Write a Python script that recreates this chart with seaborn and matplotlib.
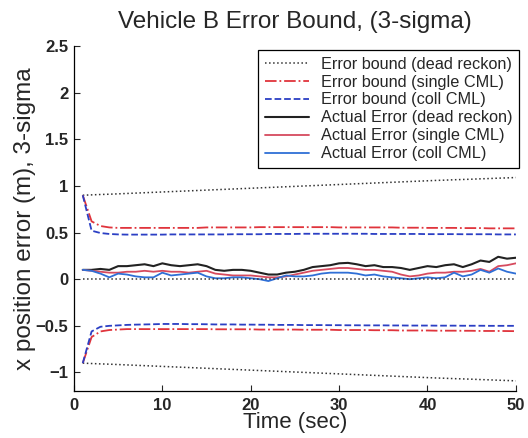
import numpy as np
import pandas as pd
import matplotlib
matplotlib.use("Agg")
import matplotlib.pyplot as plt
import seaborn as sns

# tiempo (s)
t = list(range(1, 51))

# cotas de error 3-sigma
dr_bound = [0.900, 0.904, 0.908, 0.911, 0.915, 0.919, 0.923, 0.927, 0.931, 0.935,
            0.939, 0.943, 0.947, 0.951, 0.955, 0.959, 0.963, 0.967, 0.971, 0.975,
            0.979, 0.983, 0.987, 0.991, 0.995, 0.999, 1.003, 1.007, 1.011, 1.015,
            1.019, 1.023, 1.027, 1.031, 1.035, 1.039, 1.043, 1.047, 1.051, 1.055,
            1.059, 1.062, 1.066, 1.069, 1.072, 1.076, 1.079, 1.083, 1.086, 1.090]
single_up = [0.90, 0.62, 0.57, 0.555, 0.55, 0.55, 0.55, 0.55, 0.55, 0.55,
             0.55, 0.55, 0.55, 0.55, 0.555, 0.555, 0.555, 0.555, 0.555, 0.555,
             0.558, 0.558, 0.558, 0.558, 0.558, 0.558, 0.558, 0.558, 0.558, 0.555,
             0.555, 0.555, 0.555, 0.555, 0.555, 0.555, 0.552, 0.552, 0.552, 0.55,
             0.55, 0.55, 0.55, 0.548, 0.548, 0.548, 0.545, 0.545, 0.545, 0.545]
coll_up = [0.90, 0.52, 0.495, 0.485, 0.48, 0.478, 0.478, 0.478, 0.478, 0.478,
           0.48, 0.48, 0.48, 0.48, 0.48, 0.48, 0.48, 0.482, 0.482, 0.482,
           0.482, 0.485, 0.485, 0.485, 0.485, 0.487, 0.487, 0.487, 0.487, 0.487,
           0.487, 0.487, 0.487, 0.485, 0.485, 0.485, 0.485, 0.485, 0.485, 0.483,
           0.483, 0.483, 0.483, 0.482, 0.482, 0.482, 0.482, 0.48, 0.48, 0.48]
single_lo = [-0.90, -0.62, -0.56, -0.545, -0.54, -0.535, -0.535, -0.535, -0.535, -0.535,
             -0.535, -0.535, -0.535, -0.535, -0.535, -0.537, -0.537, -0.537, -0.537, -0.537,
             -0.54, -0.54, -0.54, -0.54, -0.54, -0.542, -0.542, -0.542, -0.542, -0.545,
             -0.545, -0.545, -0.545, -0.547, -0.547, -0.547, -0.55, -0.55, -0.55, -0.55,
             -0.552, -0.552, -0.552, -0.553, -0.553, -0.555, -0.555, -0.555, -0.556, -0.557]
coll_lo = [-0.90, -0.56, -0.51, -0.50, -0.495, -0.49, -0.487, -0.485, -0.483, -0.48,
           -0.48, -0.48, -0.482, -0.482, -0.483, -0.485, -0.485, -0.485, -0.487, -0.487,
           -0.488, -0.488, -0.49, -0.49, -0.49, -0.492, -0.492, -0.492, -0.493, -0.493,
           -0.494, -0.494, -0.495, -0.495, -0.495, -0.496, -0.496, -0.497, -0.497, -0.497,
           -0.498, -0.498, -0.498, -0.499, -0.499, -0.499, -0.50, -0.50, -0.50, -0.50]

# errores reales
err_dr = [0.10, 0.10, 0.11, 0.10, 0.14, 0.14, 0.15, 0.16, 0.14, 0.17,
          0.15, 0.14, 0.15, 0.16, 0.14, 0.10, 0.09, 0.10, 0.10, 0.09,
          0.07, 0.05, 0.05, 0.07, 0.08, 0.10, 0.13, 0.14, 0.15, 0.17,
          0.175, 0.16, 0.14, 0.15, 0.13, 0.13, 0.12, 0.10, 0.12, 0.14,
          0.13, 0.15, 0.16, 0.13, 0.16, 0.20, 0.185, 0.24, 0.22, 0.23]
err_single = [0.10, 0.09, 0.08, 0.07, 0.07, 0.08, 0.08, 0.09, 0.08, 0.09,
              0.08, 0.08, 0.07, 0.08, 0.09, 0.06, 0.05, 0.04, 0.04, 0.04,
              0.03, 0.02, 0.02, 0.03, 0.05, 0.07, 0.09, 0.10, 0.11, 0.12,
              0.12, 0.11, 0.10, 0.10, 0.09, 0.08, 0.05, 0.03, 0.04, 0.06,
              0.07, 0.07, 0.08, 0.08, 0.09, 0.11, 0.08, 0.14, 0.15, 0.17]
err_coll = [0.10, 0.09, 0.06, 0.02, 0.06, 0.05, 0.03, 0.02, 0.02, 0.07,
            0.04, 0.05, 0.06, 0.07, 0.03, 0.01, 0.01, 0.02, 0.02, 0.01,
            0.00, -0.02, 0.01, 0.04, 0.03, 0.03, 0.04, 0.06, 0.07, 0.07,
            0.07, 0.06, 0.04, 0.05, 0.03, 0.02, 0.01, 0.00, 0.01, 0.02,
            0.01, 0.02, 0.07, 0.03, 0.05, 0.10, 0.07, 0.115, 0.08, 0.06]

zero_line = [0.0] * len(t)

x_ticks = [0, 10, 20, 30, 40, 50]
y_ticks = [-1, -0.5, 0, 0.5, 1, 1.5, 2, 2.5]
y_tick_labels = ["\u22121", "\u22120.5", "0", "0.5", "1", "1.5", "2", "2.5"]

red = "#e0343c"
blue = "#2b3fc4"
red_act = "#d64a5e"
blue_act = "#2f6fd6"

sns.set_style("ticks")
plt.rcParams["font.family"] = ["Liberation Sans", "DejaVu Sans"]
plt.rcParams["xtick.direction"] = "in"
plt.rcParams["ytick.direction"] = "in"

fig = plt.figure(figsize=(5.28, 4.38), dpi=100)
ax = fig.add_axes([0.140, 0.107, 0.837, 0.788])

lw = 1.3
sns.lineplot(x=t, y=dr_bound, ax=ax, color="#333333", linestyle=":", lw=1.1,
             label="Error bound (dead reckon)")
sns.lineplot(x=t, y=single_up, ax=ax, color=red, linestyle="-.", lw=lw,
             label="Error bound (single CML)")
sns.lineplot(x=t, y=coll_up, ax=ax, color=blue, linestyle="--", lw=lw,
             label="Error bound (coll CML)")
sns.lineplot(x=t, y=err_dr, ax=ax, color="#222222", lw=1.5,
             label="Actual Error (dead reckon)")
sns.lineplot(x=t, y=err_single, ax=ax, color=red_act, lw=1.3,
             label="Actual Error (single CML)")
sns.lineplot(x=t, y=err_coll, ax=ax, color=blue_act, lw=1.3,
             label="Actual Error (coll CML)")
# cotas inferiores y linea de cero
sns.lineplot(x=t, y=[-v for v in dr_bound], ax=ax, color="#333333", linestyle=":", lw=1.1)
sns.lineplot(x=t, y=zero_line, ax=ax, color="#333333", linestyle=":", lw=1.1)
sns.lineplot(x=t, y=single_lo, ax=ax, color=red, linestyle="-.", lw=lw)
sns.lineplot(x=t, y=coll_lo, ax=ax, color=blue, linestyle="--", lw=lw)

ax.set_xlim(0, 50)
ax.set_ylim(-1.2, 2.5)
ax.set_xticks(x_ticks)
ax.set_yticks(y_ticks)
ax.set_yticklabels(y_tick_labels)
ax.tick_params(labelsize=12, length=4, width=0.8)
ax.tick_params(axis="x", pad=5)
ax.tick_params(axis="y", pad=4)
for lab in ax.get_xticklabels() + ax.get_yticklabels():
    lab.set_fontweight("bold")
sns.despine(ax=ax)
for s in ["left", "bottom"]:
    ax.spines[s].set_linewidth(0.9)
    ax.spines[s].set_color("black")

ax.set_title("Vehicle B Error Bound, (3-sigma)", fontsize=17.5, pad=13)
ax.set_xlabel("Time (sec)", fontsize=16, labelpad=-1)
ax.set_ylabel("x position error (m), 3-sigma", fontsize=17.5)
ax.yaxis.set_label_coords(-0.085, 0.5)

leg = ax.legend(loc="upper right", fontsize=11.7, frameon=True, fancybox=False,
                edgecolor="black", framealpha=1, borderpad=0.4, labelspacing=0.18,
                handlelength=2.7, handletextpad=0.75, borderaxespad=0.0,
                bbox_to_anchor=(1.007, 0.988))
leg.get_frame().set_linewidth(0.9)

fig.savefig("out.png", dpi=100)
